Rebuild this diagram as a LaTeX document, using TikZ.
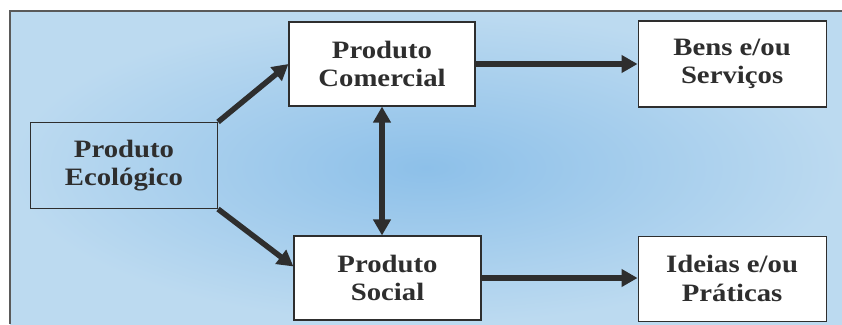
\documentclass[tikz,border=0pt]{standalone}
\usepackage{fontspec}
\setmainfont{Liberation Serif}[FakeStretch=1.15]
\definecolor{bgLight}{HTML}{BCDAF0}
\definecolor{bgDeep}{HTML}{8DC0E9}
\definecolor{frameGray}{HTML}{5A5A5A}
\definecolor{inkGray}{HTML}{2E2E2E}
\usetikzlibrary{arrows.meta,positioning}

\begin{document}
\begin{tikzpicture}[
    x=1pt, y=-1pt,
    box/.style={draw=inkGray, line width=1.1pt, fill=white, minimum width=187pt,
                minimum height=85pt, align=center, text=inkGray,
                font=\fontsize{25}{28.5}\selectfont\bfseries},
    arr/.style={-{Triangle[length=16pt,width=17pt]}, line width=5.5pt, inkGray},
    dblarr/.style={{Triangle[length=16pt,width=17pt]}-{Triangle[length=16pt,width=17pt]},
                   line width=5.5pt, inkGray}
  ]
    \useasboundingbox (0,0) rectangle (842,324);

    % Background panel
    \fill[white] (0,0) rectangle (842,324);
    \shade[inner color=bgDeep, outer color=bgLight] (10,11) rectangle (842,324);
    \draw[frameGray, line width=1.5pt] (10,324) -- (10,11) -- (842,11);

    \node[box, fill=none, minimum height=86pt] (eco) at (124,165.5)
      {Produto\\Ecológico};
    \node[box, minimum width=186pt, minimum height=84pt] (com) at (382,64)
      {Produto\\Comercial};
    \node[box, minimum width=188pt, minimum height=86pt, right=162pt of com] (bens)
      {Bens e/ou\\Serviços};
    \node[box, minimum height=84pt] (soc) at (387.5,278)
      {Produto\\Social};
    \node[box, minimum width=188pt, below=128pt of bens] (ide)
      {Ideias e/ou\\Práticas};

    \draw[arr] (eco.north east) -- (com.west);
    \draw[arr] (eco.south east) -- (soc.173);
    \draw[arr] (com.east) -- (com.east -| bens.west);
    \draw[arr] (soc.east) -- (soc.east -| ide.west);
    \draw[dblarr] (com.south) -- (com.south |- soc.north);
  \end{tikzpicture}
\end{document}
